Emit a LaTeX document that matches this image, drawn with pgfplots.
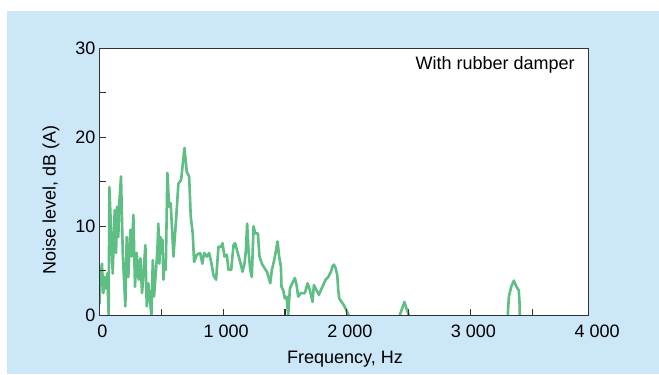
\documentclass[border=0pt]{standalone}
\usepackage{fontspec}
\setmainfont{Liberation Sans}
\usepackage{pgfplots}
\pgfplotsset{compat=1.18}

\definecolor{panelblue}{RGB}{203,231,248}
\definecolor{curvegreen}{RGB}{95,190,132}
\definecolor{axisgray}{RGB}{50,50,50}

\begin{document}
\begin{tikzpicture}[x=1bp,y=1bp,font=\fontsize{18bp}{21bp}\selectfont]
% page and panel
\fill[white] (0,0) rectangle (659,374);
\fill[panelblue] (7,0) rectangle (659,363);

\begin{axis}[
  at={(99.5bp,58.7bp)}, anchor=south west,
  width=489bp, height=267bp, scale only axis,
  xmin=0, xmax=3955, ymin=0, ymax=30,
  axis background/.style={fill=white},
  axis line style={axisgray, line width=1.2bp},
  tick style={axisgray, line width=1.1bp},
  tick align=inside, tick pos=left,
  major tick length=6bp, minor tick length=6bp,
  xtick={0,1000,2000,3000}, xticklabels={0,1 000,2 000,3 000},
  minor xtick={500,1500,2500,3500},
  ytick={0,10,20,30}, yticklabels={0,10,20,30},
  minor ytick={5,15,25},
  xticklabel style={anchor=north, inner sep=0pt, yshift=-9bp, xshift=3bp},
  yticklabel style={anchor=east, inner sep=0pt, xshift=-4bp},
  clip mode=individual,
  axis on top,
]
\addplot[curvegreen, line width=2.6bp, line join=round, line cap=round] coordinates {
(0,1.3) (10,4.7) (20,5.8) (31,2.5) (42,4.3) (53,3.0) (63,4.7) (74,0)
(80,14.4) (107,4.7) (123,11.8) (134,7.0) (142,12.2) (152,8.8) (160,12.6)
(174,15.6) (188,7.0) (209,1.0) (220,8.8) (233,4.3) (250,9.6) (260,6.6)
(274,11.3) (287,3.2) (301,7.0) (317,4.0) (331,6.4) (344,2.5) (358,5.1)
(371,7.9) (382,1.0) (395,3.6) (409,1.5) (420,0) (431,6.2) (441,2.1)
(449,3.6) (457,5.1) (468,7.3) (476,10.3) (484,5.8) (493,8.8) (501,7.7)
(509,8.5) (517,4.0) (525,6.2) (536,5.1) (549,16.0) (563,12.2) (576,12.6)
(598,6.6) (619,10.7) (638,14.8) (660,15.2) (687,18.8) (706,16.1) (725,15.6)
(738,11.1) (754,9.2) (765,6.0) (787,6.8) (814,7.0) (832,5.8) (846,7.0)
(868,6.6) (887,7.0) (903,6.0) (922,4.5) (943,4.0) (962,7.7) (984,7.7)
(995,8.1) (1011,6.6) (1030,6.8) (1043,5.1) (1065,5.1) (1084,7.9) (1097,8.1)
(1116,7.1) (1138,6.0) (1157,4.9) (1173,5.8) (1184,7.3) (1194,10.3) (1205,7.3)
(1219,5.1) (1232,4.3) (1246,10.0) (1259,9.2) (1281,9.2) (1294,6.6) (1313,5.8)
(1335,5.3) (1354,4.9) (1367,4.3) (1381,3.6) (1394,5.1) (1413,6.2) (1424,7.0)
(1440,8.3) (1453,6.6) (1467,5.5) (1472,3.2) (1486,2.8) (1499,1.9) (1513,2.1)
(1526,0) (1540,3.0) (1559,3.6) (1580,4.2) (1594,3.4) (1607,2.1) (1629,2.5)
(1661,2.5) (1683,3.6) (1702,2.8) (1723,1.5) (1734,3.4) (1756,2.8) (1775,2.3)
(1796,3.0) (1829,4.0) (1850,4.3) (1872,4.9) (1885,5.5) (1896,5.7) (1910,5.3)
(1923,4.5) (1931,2.8) (1939,1.9) (1958,1.5) (1974,1.2) (1996,0.6) (2015,0)
};
\addplot[curvegreen, line width=2.6bp, line join=round] coordinates {
(2428,0) (2466,1.5) (2501,0)
};
\addplot[curvegreen, line width=2.6bp, line join=round] coordinates {
(3302,0) (3311,2.1) (3330,3.2) (3351,3.9) (3373,3.2) (3391,2.8) (3397,1.5) (3399,0)
};
\node[anchor=base] at (rel axis cs:0.809,0.919) {With rubber damper};
\node[anchor=north, inner sep=0pt, yshift=-9bp, xshift=3bp] at (axis cs:4000,0) {4 000};
\end{axis}

% axis titles
\node[anchor=base] at (345,11) {Frequency, Hz};
\node[rotate=90, anchor=center] at (51,174) {Noise level, dB (A)};
\end{tikzpicture}
\end{document}
